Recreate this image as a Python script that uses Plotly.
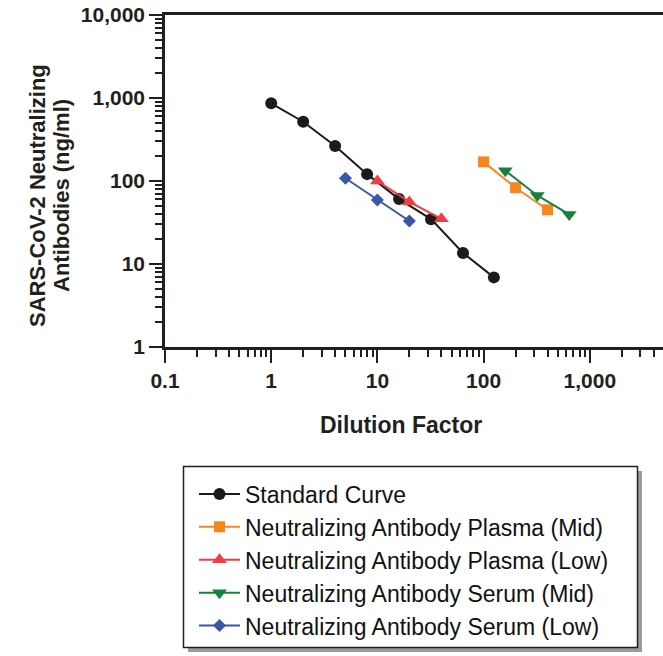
import plotly.graph_objects as go

# ---------------- data ----------------
std_x = [1, 2, 4, 8, 16, 32, 64, 125]
std_y = [863, 518, 264, 121, 60.5, 34.7, 13.6, 6.9]

plasma_mid_x = [100, 200, 400]
plasma_mid_y = [170, 83, 45]

plasma_low_x = [10, 20, 40]
plasma_low_y = [100, 56, 35]

serum_mid_x = [160, 320, 640]
serum_mid_y = [133, 67, 39.5]

serum_low_x = [5, 10, 20]
serum_low_y = [108, 59, 33]

series_names = [
    "Standard Curve",
    "Neutralizing Antibody Plasma (Mid)",
    "Neutralizing Antibody Plasma (Low)",
    "Neutralizing Antibody Serum (Mid)",
    "Neutralizing Antibody Serum (Low)",
]

x_tick_vals = [0.1, 1, 10, 100, 1000]
x_tick_text = ["0.1", "1", "10", "100", "1,000"]
y_tick_vals = [1, 10, 100, 1000, 10000]
y_tick_text = ["1", "10", "100", "1,000", "10,000"]

x_title = "Dilution Factor"
y_title_lines = ["SARS-CoV-2 Neutralizing", "Antibodies (ng/ml)"]

# ---------------- layout geometry ----------------
W, H = 663, 656
L, T = 165, 15
PW = W - L            # plot width
PH = 332              # plot height
B = H - T - PH

def px2paper_x(px):
    return (px - L) / PW

def px2paper_y(py):
    return (T + PH - py) / PH

INK = "#231f20"
FONT = "Liberation Sans, Arial, Helvetica, sans-serif"

x_minor = [k * v for v in [0.1, 1, 10, 100, 1000] for k in range(2, 10) if k * v < 4800]
y_minor = [k * v for v in [1, 10, 100, 1000] for k in range(2, 10)]

fig = go.Figure()

styles = [
    (std_x, std_y, "#1d1a1b", "circle", 12),
    (plasma_mid_x, plasma_mid_y, "#f7861e", "square", 11),
    (plasma_low_x, plasma_low_y, "#ee3e44", "triangle-up", 13),
    (serum_mid_x, serum_mid_y, "#16813d", "triangle-down", 13),
    (serum_low_x, serum_low_y, "#3a57a6", "diamond", 10),
]

for i, (xs, ys, col, sym, sz) in enumerate(styles):
    fig.add_trace(go.Scatter(
        x=xs, y=ys, mode="lines+markers", name=series_names[i],
        line=dict(color=col, width=2),
        marker=dict(color=col, symbol=sym, size=sz, line=dict(width=0)),
        legendgroup=f"g{i}",
    ))

# legend frame + shadow (drawn as shapes behind the legend)
fig.add_shape(type="rect", xref="paper", yref="paper",
              x0=px2paper_x(188), x1=px2paper_x(642),
              y0=px2paper_y(652), y1=px2paper_y(471),
              fillcolor="#9b9b9b", line=dict(width=0), layer="below")
fig.add_shape(type="rect", xref="paper", yref="paper",
              x0=px2paper_x(183.5), x1=px2paper_x(637.5),
              y0=px2paper_y(647.5), y1=px2paper_y(466.5),
              fillcolor="white", line=dict(color=INK, width=1.5), layer="below")

# axis titles as annotations
fig.add_annotation(text=x_title, xref="paper", yref="paper",
                   x=px2paper_x(401), y=px2paper_y(425),
                   xanchor="center", yanchor="middle", showarrow=False,
                   font=dict(family=FONT, size=23, color=INK, weight="bold"))
for j, (cx, line) in enumerate(zip([37, 61], y_title_lines)):
    fig.add_annotation(text=line, xref="paper", yref="paper",
                       x=px2paper_x(cx), y=px2paper_y(196),
                       xanchor="center", yanchor="middle", showarrow=False,
                       textangle=-90,
                       font=dict(family=FONT, size=22, color=INK, weight="bold"))

axis_common = dict(
    type="log", showgrid=False, zeroline=False,
    showline=True, linecolor=INK, linewidth=2.5,
    ticks="outside", ticklen=13, tickwidth=2, tickcolor=INK,
    tickfont=dict(family=FONT, size=21, color=INK, weight="bold"),
    tickmode="array",
)

fig.update_xaxes(**axis_common, range=[-1, -1 + PW / 106.2],
                 tickvals=x_tick_vals, ticktext=x_tick_text, mirror=True,
                 ticklabelstandoff=0,
                 minor=dict(tickmode="array", tickvals=x_minor, ticks="outside",
                            ticklen=7, tickwidth=2, tickcolor=INK))
fig.update_yaxes(**axis_common, range=[0, 4],
                 tickvals=y_tick_vals, ticktext=y_tick_text,
                 ticklabelstandoff=0,
                 minor=dict(tickmode="array", tickvals=y_minor, ticks="outside",
                            ticklen=7, tickwidth=2, tickcolor=INK))

fig.update_layout(
    width=W, height=H,
    margin=dict(l=L, r=0, t=T, b=B, pad=0, autoexpand=False),
    paper_bgcolor="white", plot_bgcolor="white",
    showlegend=True,
    legend=dict(
        x=px2paper_x(194), y=px2paper_y(472.5), xanchor="left", yanchor="top",
        bgcolor="rgba(0,0,0,0)", borderwidth=0,
        font=dict(family=FONT, size=23, color="#111111"),
        tracegroupgap=0, traceorder="grouped", itemwidth=41,
    ),
)

fig.write_html("out.html")
